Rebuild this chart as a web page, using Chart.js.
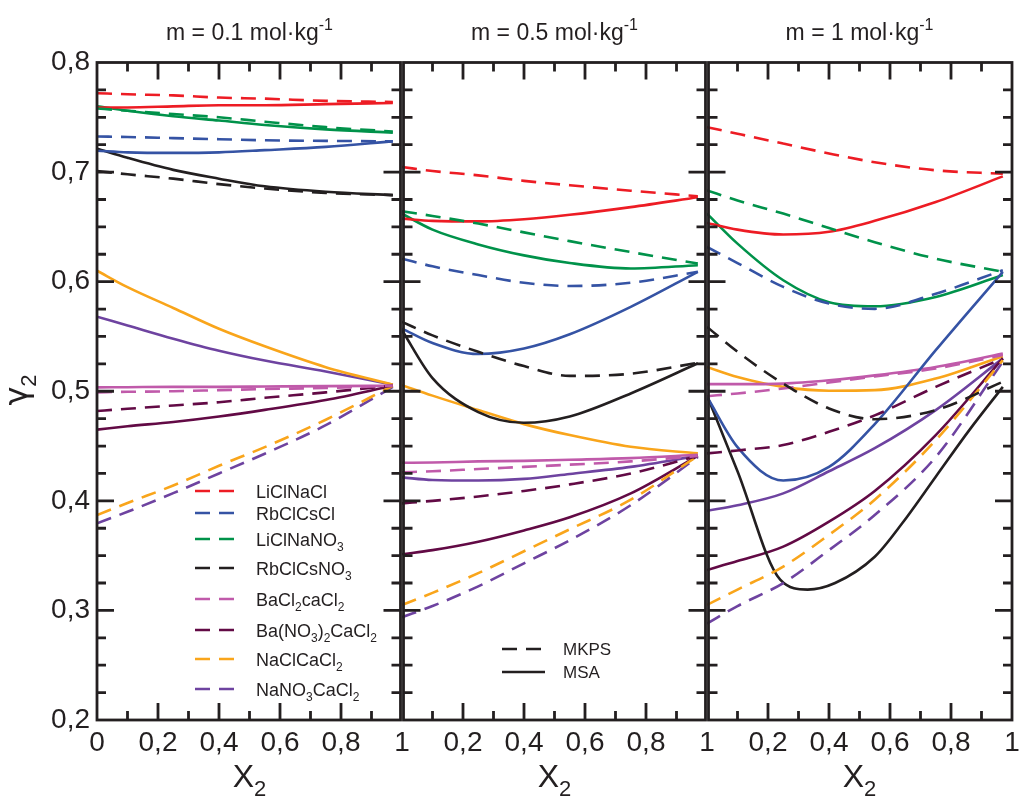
<!DOCTYPE html>
<html>
<head>
<meta charset="utf-8">
<script src="https://cdn.jsdelivr.net/npm/chart.js@4.4.1/dist/chart.umd.min.js"></script>
<style>
  html, body { margin: 0; background: #fff; }
  #wrap { width: 1019px; height: 798px; }
</style>
</head>
<body>
<div id="wrap"><canvas id="gamma" width="1019" height="798"></canvas></div>
<script>
const FONT = '"Liberation Sans", Arial, sans-serif';
const INK = '#231f20';

// mole fraction grid the curves were read at
const X_GRID = [0, 0.1, 0.25, 0.4, 0.55, 0.75, 0.97];

const SYSTEMS = ['LiClNaCl', 'RbClCsCl', 'LiClNaNO_3', 'RbClCsNO_3',
  'BaCl_2caCl_2', 'Ba(NO_3)_2CaCl_2', 'NaClCaCl_2', 'NaNO_3CaCl_2'];
const COLORS = ['#ed1c24', '#3553a4', '#00924a', '#231f20',
  '#c05aaa', '#620a45', '#f9a51b', '#6e43a0'];

const PANEL_TITLES = ['m = 0.1 mol·kg^{-1}', 'm = 0.5 mol·kg^{-1}', 'm = 1 mol·kg^{-1}'];

// m = 0.1 mol/kg
const MKPS_01 = [
  [0.772, 0.771, 0.770, 0.768, 0.767, 0.765, 0.764],
  [0.7325, 0.732, 0.731, 0.730, 0.729, 0.7285, 0.728],
  [0.758, 0.756, 0.753, 0.750, 0.746, 0.741, 0.737],
  [0.701, 0.698, 0.694, 0.689, 0.685, 0.681, 0.679],
  [0.499, 0.4995, 0.500, 0.501, 0.502, 0.503, 0.505],
  [0.482, 0.484, 0.487, 0.490, 0.494, 0.499, 0.505],
  [0.387, 0.398, 0.414, 0.432, 0.449, 0.474, 0.505],
  [0.3795, 0.390, 0.407, 0.425, 0.443, 0.469, 0.504]
];
const MSA_01 = [
  [0.759, 0.759, 0.760, 0.761, 0.761, 0.762, 0.763],
  [0.7195, 0.718, 0.7175, 0.718, 0.720, 0.723, 0.728],
  [0.760, 0.756, 0.751, 0.747, 0.743, 0.739, 0.736],
  [0.7213, 0.713, 0.702, 0.694, 0.687, 0.682, 0.679],
  [0.5035, 0.5037, 0.504, 0.504, 0.5043, 0.5047, 0.505],
  [0.465, 0.468, 0.472, 0.477, 0.483, 0.492, 0.505],
  [0.610, 0.595, 0.576, 0.557, 0.541, 0.522, 0.506],
  [0.568, 0.560, 0.548, 0.537, 0.528, 0.518, 0.506]
];

// m = 0.5 mol/kg
const MKPS_05 = [
  [0.7046, 0.701, 0.697, 0.692, 0.688, 0.683, 0.678],
  [0.621, 0.614, 0.606, 0.599, 0.596, 0.599, 0.609],
  [0.6642, 0.660, 0.653, 0.645, 0.637, 0.627, 0.6165],
  [0.5633, 0.551, 0.536, 0.523, 0.514, 0.516, 0.526],
  [0.426, 0.427, 0.429, 0.431, 0.433, 0.436, 0.441],
  [0.3977, 0.400, 0.404, 0.409, 0.415, 0.425, 0.441],
  [0.305, 0.316, 0.334, 0.354, 0.374, 0.401, 0.441],
  [0.2938, 0.304, 0.322, 0.343, 0.364, 0.396, 0.440]
];
const MSA_05 = [
  [0.6575, 0.6555, 0.655, 0.657, 0.661, 0.668, 0.677],
  [0.5572, 0.544, 0.534, 0.539, 0.552, 0.577, 0.609],
  [0.662, 0.6475, 0.634, 0.624, 0.617, 0.612, 0.615],
  [0.5557, 0.512, 0.481, 0.4712, 0.477, 0.498, 0.5255],
  [0.4347, 0.435, 0.436, 0.4365, 0.4375, 0.439, 0.442],
  [0.3512, 0.355, 0.3627, 0.373, 0.385, 0.4068, 0.441],
  [0.5056, 0.496, 0.4828, 0.470, 0.460, 0.4493, 0.4433],
  [0.4214, 0.419, 0.4185, 0.420, 0.4245, 0.431, 0.441]
];

// m = 1 mol/kg
const MKPS_1 = [
  [0.741, 0.735, 0.726, 0.717, 0.709, 0.7016, 0.6985],
  [0.6317, 0.617, 0.5952, 0.580, 0.5752, 0.589, 0.6104],
  [0.6833, 0.674, 0.6621, 0.649, 0.636, 0.621, 0.609],
  [0.5587, 0.536, 0.507, 0.4843, 0.4745, 0.4828, 0.5086],
  [0.4955, 0.498, 0.5025, 0.508, 0.5135, 0.5207, 0.533],
  [0.4433, 0.446, 0.4509, 0.463, 0.478, 0.504, 0.5298],
  [0.305, 0.319, 0.340, 0.369, 0.401, 0.4554, 0.5284],
  [0.288, 0.304, 0.325, 0.355, 0.387, 0.440, 0.527]
];
// RbClCsNO3 MSA curve at m = 1 has a sharp bend, read on its own x values
const X_MSA_1_RbClCsNO3 = [0, 0.1, 0.24, 0.33, 0.42, 0.55, 0.64, 0.75, 0.86, 0.97];
const MSA_1_RbClCsNO3 = [0.496, 0.427, 0.328, 0.319, 0.325, 0.349, 0.3795, 0.422, 0.4645, 0.504];
const MSA_1 = [
  [0.6536, 0.6475, 0.643, 0.6455, 0.6555, 0.6727, 0.6961],
  [0.495, 0.449, 0.4185, 0.431, 0.470, 0.5375, 0.609],
  [0.6621, 0.6347, 0.6013, 0.5813, 0.5775, 0.586, 0.606],
  MSA_1_RbClCsNO3,
  [0.5065, 0.5065, 0.507, 0.510, 0.5145, 0.5222, 0.5344],
  [0.3369, 0.345, 0.3582, 0.381, 0.409, 0.460, 0.530],
  [0.5222, 0.513, 0.504, 0.5005, 0.501, 0.5116, 0.532],
  [0.391, 0.396, 0.4068, 0.427, 0.448, 0.4828, 0.530]
];

const MODELS = [[MKPS_01, MSA_01], [MKPS_05, MSA_05], [MKPS_1, MSA_1]];
const DASH = [15, 9];

// text with _x / _{..} subscripts and ^{..} superscripts
function parseRich(str) {
  const out = [];
  let i = 0;
  while (i < str.length) {
    const c = str[i];
    if ((c === '_' || c === '^') && i + 1 < str.length) {
      let t;
      if (str[i + 1] === '{') {
        const j = str.indexOf('}', i);
        t = str.slice(i + 2, j);
        i = j + 1;
      } else {
        t = str[i + 1];
        i += 2;
      }
      out.push({ t, kind: c === '_' ? 'sub' : 'sup' });
    } else {
      let j = i;
      while (j < str.length && str[j] !== '_' && str[j] !== '^') j++;
      out.push({ t: str.slice(i, j), kind: 'n' });
      i = j;
    }
  }
  return out;
}

function drawRich(ctx, str, x, y, size, align, family) {
  const parts = parseRich(str);
  const small = Math.round(size * 0.68);
  const fontOf = p => (p.kind === 'n' ? size : small) + 'px ' + (p.kind === 'n' && family ? family : FONT);
  const widths = parts.map(p => { ctx.font = fontOf(p); return ctx.measureText(p.t).width; });
  const total = widths.reduce((a, b) => a + b, 0);
  let cx = align === 'center' ? x - total / 2 : x;
  ctx.textAlign = 'left';
  ctx.textBaseline = 'alphabetic';
  parts.forEach((p, k) => {
    ctx.font = fontOf(p);
    const dy = p.kind === 'sub' ? size * 0.28 : p.kind === 'sup' ? -size * 0.42 : 0;
    ctx.fillText(p.t, cx, y + dy);
    cx += widths[k];
  });
}

function fmtTick(v, p) {
  if (v === 0) return p === 0 ? '0' : '';
  if (Math.abs(v - 1) < 1e-9) return '1';
  return v.toFixed(1).replace('.', ',');
}

const datasets = [];
MODELS.forEach(([mkps, msa], p) => {
  [[mkps, DASH, 'MKPS'], [msa, [], 'MSA']].forEach(([rows, dash, model]) => {
    rows.forEach((ys, i) => {
      const xs = rows[i] === MSA_1_RbClCsNO3 ? X_MSA_1_RbClCsNO3 : X_GRID;
      datasets.push({
        label: SYSTEMS[i] + ' ' + model,
        data: xs.map((x, k) => ({ x: x, y: ys[k] })),
        xAxisID: 'x' + p,
        yAxisID: 'y',
        borderColor: COLORS[i],
        borderWidth: 2.6,
        borderDash: dash,
        pointRadius: 0,
        fill: false,
        cubicInterpolationMode: 'monotone'
      });
    });
  });
});

function xScale(p) {
  return {
    type: 'linear', min: 0, max: 1, position: 'bottom',
    stack: 'panels', stackWeight: 1,
    grid: { display: false, drawTicks: false },
    border: { display: false },
    ticks: {
      stepSize: 0.2, padding: 6, autoSkip: false, maxRotation: 0,
      color: INK, font: { family: FONT, size: 28 },
      callback: v => fmtTick(v, p)
    },
    afterFit: s => { s.height = 78; s.paddingLeft = 0; s.paddingRight = 0; }
  };
}

const decor = {
  id: 'decor',
  afterDraw(chart) {
    const ctx = chart.ctx;
    const { top, bottom } = chart.chartArea;
    const ys = chart.scales.y;
    ctx.save();
    ctx.strokeStyle = INK;
    ctx.fillStyle = INK;
    PANEL_TITLES.forEach((title, p) => {
      const xs = chart.scales['x' + p];
      const L = xs.left + (p > 0 ? 1.5 : 0);
      const R = xs.right - (p < 2 ? 1.5 : 0);
      ctx.setLineDash([]);
      ctx.lineWidth = 2.8;
      ctx.strokeRect(L, top, R - L, bottom - top);
      ctx.beginPath();
      for (let k = 1; k <= 9; k++) {
        const px = xs.getPixelForValue(k / 10);
        const len = k % 2 === 0 ? 17 : 9;
        ctx.moveTo(px, bottom); ctx.lineTo(px, bottom - len);
        ctx.moveTo(px, top); ctx.lineTo(px, top + len);
      }
      for (let k = 9; k <= 31; k++) {
        const py = ys.getPixelForValue(k * 0.025);
        const len = k % 4 === 0 ? 17 : 9;
        ctx.moveTo(L, py); ctx.lineTo(L + len, py);
        ctx.moveTo(R, py); ctx.lineTo(R - len, py);
      }
      ctx.stroke();
      const cx = (xs.left + xs.right) / 2;
      drawRich(ctx, title, cx, 40, 23, 'center');
      drawRich(ctx, 'X_2', cx, 787, 32, 'center');
    });

    // y axis title, rotated
    ctx.save();
    ctx.translate(27, 390);
    ctx.rotate(-Math.PI / 2);
    drawRich(ctx, 'γ_2', 0, 0, 32, 'center', '"DejaVu Sans", sans-serif');
    ctx.restore();

    // system legend (first panel)
    const rowsY = [491, 513, 539, 568, 599, 630, 659, 689];
    ctx.lineWidth = 2.6;
    SYSTEMS.forEach((name, i) => {
      const y = rowsY[i];
      ctx.strokeStyle = COLORS[i];
      ctx.setLineDash(DASH);
      ctx.beginPath();
      ctx.moveTo(195, y); ctx.lineTo(238, y);
      ctx.stroke();
      ctx.fillStyle = INK;
      drawRich(ctx, name, 256, y + 6.5, 18, 'left');
    });

    // model legend (second panel)
    ctx.strokeStyle = INK;
    [['MKPS', DASH, 649], ['MSA', [], 672]].forEach(([name, dash, y]) => {
      ctx.setLineDash(dash);
      ctx.beginPath();
      ctx.moveTo(502, y); ctx.lineTo(545, y);
      ctx.stroke();
      ctx.fillStyle = INK;
      drawRich(ctx, name, 563, y + 6, 17, 'left');
    });
    ctx.restore();
  }
};

new Chart(document.getElementById('gamma'), {
  type: 'line',
  data: { datasets: datasets },
  options: {
    responsive: false,
    animation: false,
    layout: { padding: { top: 62.5, right: 7, left: 0, bottom: 0 } },
    plugins: { legend: { display: false }, tooltip: { enabled: false }, title: { display: false } },
    scales: {
      x0: xScale(0),
      x1: xScale(1),
      x2: xScale(2),
      y: {
        type: 'linear', min: 0.2, max: 0.8, position: 'left',
        grid: { display: false, drawTicks: false },
        border: { display: false },
        ticks: {
          stepSize: 0.1, padding: 7,
          color: INK, font: { family: FONT, size: 28 },
          callback: v => v.toFixed(1).replace('.', ',')
        },
        afterFit: s => { s.width = 97; s.paddingTop = 0; s.paddingBottom = 0; }
      }
    }
  },
  plugins: [decor]
});
</script>
</body>
</html>
